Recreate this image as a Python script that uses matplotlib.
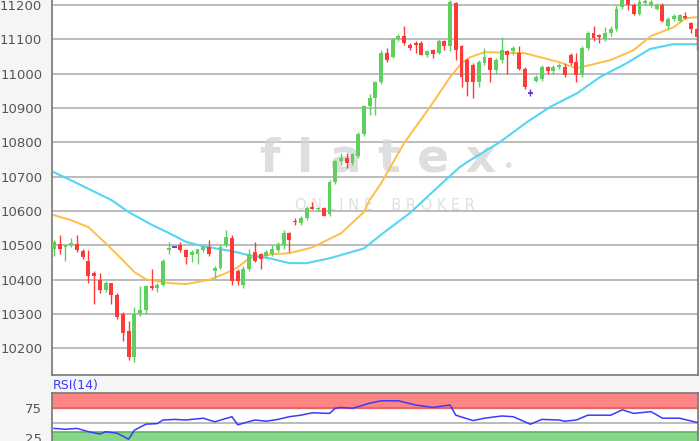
import numpy as np
import matplotlib.pyplot as plt

# OHLC (one entry per candle)
opens = [10490, 10505, 10495, 10502, 10505, 10482, 10455, 10420, 10400, 10370,
         10390, 10355, 10300, 10250, 10175, 10300, 10310, 10380, 10375, 10385,
         10485, 10495, 10500, 10487, 10473, 10475, 10485, 10495, 10425, 10435,
         10500, 10520, 10425, 10385, 10430, 10480, 10475, 10470, 10475, 10485,
         10500, 10535, 10572, 10565, 10580, 10612, 10605, 10610, 10590, 10685,
         10745, 10755, 10740, 10760, 10825, 10905, 10930, 10975, 11060, 11050,
         11100, 11110, 11085, 11090, 11090, 11055, 11070, 11060, 11095, 11080,
         11205, 11080, 11040, 11025, 10975, 11030, 11045, 11010, 11040, 11065,
         11065, 11060, 11015, 10945, 10980, 10985, 11020, 11008, 11020, 11020,
         11055, 11035, 10995, 11075, 11118, 11112, 11100, 11118, 11130, 11195,
         11215, 11200, 11175, 11205, 11200, 11190, 11200, 11140, 11160, 11155,
         11168, 11148, 11130]
closes = [10510, 10490, 10502, 10508, 10485, 10465, 10410, 10410, 10370, 10390,
          10355, 10290, 10245, 10175, 10300, 10310, 10380, 10375, 10385, 10455,
          10492, 10495, 10485, 10465, 10480, 10488, 10495, 10475, 10435, 10495,
          10525, 10395, 10395, 10430, 10475, 10455, 10460, 10480, 10490, 10505,
          10535, 10515, 10568, 10580, 10610, 10607, 10610, 10585, 10685, 10745,
          10755, 10740, 10765, 10825, 10905, 10930, 10975, 11060, 11040, 11100,
          11110, 11090, 11075, 11085, 11055, 11065, 11058, 11095, 11080, 11210,
          11070, 10990, 10975, 10975, 11035, 11050, 11010, 11040, 11070, 11055,
          11075, 11015, 10960, 10945, 10990, 11020, 11008, 11020, 11025, 10995,
          11030, 10995, 11075, 11120, 11105, 11108, 11118, 11130, 11190, 11215,
          11200, 11175, 11210, 11212, 11210, 11200, 11155, 11160, 11168, 11170,
          11162, 11130, 11107]
highs = [10515, 10530, 10505, 10520, 10530, 10490, 10485, 10425, 10420, 10395,
         10390, 10360, 10305, 10280, 10320, 10380, 10385, 10430, 10390, 10460,
         10510, 10495, 10510, 10490, 10485, 10490, 10500, 10515, 10440, 10505,
         10545, 10530, 10430, 10440, 10490, 10510, 10478, 10485, 10500, 10510,
         10545, 10540, 10580, 10585, 10615, 10625, 10612, 10612, 10690, 10750,
         10770, 10770, 10770, 10830, 10910, 10940, 10980, 11070, 11075, 11105,
         11115, 11140, 11090, 11095, 11095, 11070, 11072, 11100, 11098, 11215,
         11210, 11085, 11045, 11030, 11040, 11075, 11050, 11045, 11107, 11070,
         11080, 11080, 11020, 10955, 10995, 11025, 11022, 11025, 11030, 11030,
         11060, 11060, 11080, 11125, 11140, 11115, 11135, 11140, 11200, 11225,
         11225, 11205, 11220, 11220, 11215, 11205, 11205, 11165, 11175, 11175,
         11180, 11150, 11135]
lows = [10470, 10475, 10455, 10495, 10480, 10460, 10390, 10330, 10360, 10365,
        10330, 10285, 10220, 10165, 10160, 10295, 10300, 10370, 10365, 10380,
        10475, 10495, 10480, 10445, 10450, 10445, 10480, 10470, 10405, 10430,
        10495, 10385, 10385, 10375, 10425, 10450, 10430, 10465, 10470, 10480,
        10490, 10480, 10560, 10560, 10575, 10605, 10600, 10585, 10585, 10680,
        10735, 10725, 10735, 10755, 10820, 10880, 10880, 10970, 11035, 11045,
        11095, 11085, 11070, 11060, 11055, 11050, 11045, 11058, 11070, 11065,
        11040, 10960, 10935, 10930, 10960, 11025, 10975, 11000, 11030, 11000,
        11055, 11010, 10955, 10935, 10975, 10980, 11000, 11000, 11015, 10990,
        11025, 10975, 10990, 11070, 11095, 11090, 11095, 11110, 11125, 11190,
        11185, 11170, 11170, 11200, 11195, 11185, 11150, 11130, 11155, 11150,
        11160, 11120, 11070]

# moving averages sampled along the chart (candle index, value)
ma_fast_idx = [0, 3, 6, 9, 11.5, 14, 16, 20, 23, 27, 30, 32, 34, 38, 41, 45, 50,
               54, 55, 57, 61, 65.5, 69, 71, 72.5, 75, 82, 88, 91, 97, 101, 104,
               108, 110, 112.2]
ma_fast = [10588, 10573, 10553, 10506, 10465, 10422, 10401, 10390, 10387, 10399,
           10419, 10436, 10462, 10474, 10477, 10494, 10535, 10597, 10632, 10681,
           10798, 10903, 10990, 11031, 11048, 11063, 11060, 11034, 11016, 11040,
           11069, 11110, 11136, 11162, 11165]
ma_slow_idx = [0, 4, 10, 13, 17, 20, 23, 26, 31, 34, 37.6, 41, 44, 48, 54, 57.3,
               62, 67.8, 70.7, 72.5, 77.7, 82.4, 86.4, 91.1, 95.1, 99.8, 103.8,
               107.8, 112.2]
ma_slow = [10713, 10681, 10632, 10597, 10560, 10536, 10510, 10497, 10483, 10471,
           10462, 10448, 10448, 10462, 10491, 10535, 10594, 10684, 10728, 10748,
           10801, 10859, 10903, 10943, 10990, 11031, 11072, 11086, 11086]

rsi_idx = [0, 2, 4, 6, 8, 9, 11, 13, 14, 16, 18, 19, 21, 23, 26, 28, 31, 32, 35,
           37, 39, 41, 43, 45, 48, 49, 50, 52, 55, 57, 60, 63, 66, 69, 70, 73, 75,
           78, 80, 83, 85, 88, 89, 91, 93, 97, 99, 101, 104, 106, 109, 112.2]
rsi = [41, 39.5, 41, 35.5, 31.7, 35.5, 33, 23, 38, 48, 49, 55, 56, 55, 58, 52,
       60.5, 47, 55, 53, 56, 60.5, 63, 67, 66, 74.5, 76, 74.5, 83, 87, 87, 80, 76,
       80, 63, 54, 58, 61.7, 60.5, 48, 56, 55, 53, 55, 63, 63, 72, 66, 69, 58, 58,
       50.5]

price_ticks = [10200, 10300, 10400, 10500, 10600, 10700, 10800, 10900, 11000, 11100, 11200]
rsi_ticks = [25, 75]

GREEN = '#5fcf5f'
RED = '#ff3838'
DOJI = '#5533dd'

fig = plt.figure(figsize=(7, 4.41), dpi=100, facecolor='#f5f5f5')
ax = fig.add_axes([52 / 700, 66 / 441, 646 / 700, 375 / 441])
ax.set_facecolor('white')

o = np.array(opens)
c = np.array(closes)
h = np.array(highs)
l = np.array(lows)
x = np.arange(len(o))

up = c > o
down = c < o
flat = c == o

ax.vlines(x[up], l[up], h[up], color=GREEN, lw=1, zorder=3)
ax.vlines(x[down], l[down], h[down], color=RED, lw=1, zorder=3)
ax.bar(x[up], np.maximum(c[up] - o[up], 2), bottom=o[up], width=0.68, color=GREEN, zorder=4)
ax.bar(x[down], np.maximum(o[down] - c[down], 2), bottom=c[down], width=0.68, color=RED, zorder=4)
# doji candles drawn as a small cross
ax.vlines(x[flat], l[flat], h[flat], color=DOJI, lw=1, zorder=4)
ax.hlines(o[flat], x[flat] - 0.45, x[flat] + 0.45, color=DOJI, lw=1.3, zorder=4)

ax.plot(ma_fast_idx, ma_fast, color='#ffbe45', lw=1.4, zorder=2)
ax.plot(ma_slow_idx, ma_slow, color='#55d5f5', lw=1.5, zorder=2)

ax.set_xlim(-0.35, 112.2)
ax.set_ylim(10122, 11215)
ax.set_yticks(price_ticks)
ax.set_yticklabels([str(t) for t in price_ticks])
ax.set_xticks([])
ax.tick_params(axis='y', length=0, pad=7, labelsize=9.5, labelcolor='#555555')
ax.grid(axis='y', color='#aaaaaa', lw=1.1, zorder=1)
ax.set_axisbelow(True)
for s in ['left', 'bottom', 'right']:
    ax.spines[s].set_color('#777777')
    ax.spines[s].set_linewidth(1.2)
ax.spines['top'].set_visible(False)

# watermark
ax.text(0.322, 0.575, 'f l a t e x', transform=ax.transAxes, ha='left', va='center',
        fontsize=34, fontweight='bold', color='#d6d6d6', alpha=0.8, zorder=1.5)
ax.text(0.705, 0.555, '•', transform=ax.transAxes, ha='center', va='center',
        fontsize=14, color='#d6d6d6', alpha=0.8, zorder=1.5)
ax.text(0.515, 0.452, 'O N L I N E    B R O K E R', transform=ax.transAxes,
        ha='center', va='center', fontsize=10.5, color='#d8d8d8', alpha=0.8, zorder=1.5)

# RSI panel
rax = fig.add_axes([52 / 700, 0, 646 / 700, 48 / 441])
rax.set_facecolor('white')
rax.set_xlim(-0.35, 112.2)
rax.set_ylim(20, 100)
rax.axhspan(75, 100, color='#ff8585', zorder=1)
rax.axhline(75, color='#e06060', lw=1.2, zorder=1.5)
rax.axhspan(0, 35, color='#88d688', zorder=1)
rax.axhline(35, color='#5cb85c', lw=1.2, zorder=1.5)
rax.axhline(50, color='#aaaaaa', lw=1.1, zorder=1.5)
rax.plot(rsi_idx, rsi, color='#3a3aff', lw=1.1, zorder=3)
rax.set_xticks([])
rax.set_yticks(rsi_ticks)
rax.set_yticklabels([str(t) for t in rsi_ticks])
rax.tick_params(axis='y', length=0, pad=7, labelsize=9.5, labelcolor='#555555')
for s in ['left', 'top', 'right']:
    rax.spines[s].set_color('#777777')
    rax.spines[s].set_linewidth(1.2)
rax.spines['bottom'].set_visible(False)
fig.text(53 / 700, 1 - 385 / 441, 'RSI(14)', color='#3a3aff', fontsize=9,
         ha='left', va='center')

fig.savefig('out.png', dpi=100, facecolor=fig.get_facecolor())
